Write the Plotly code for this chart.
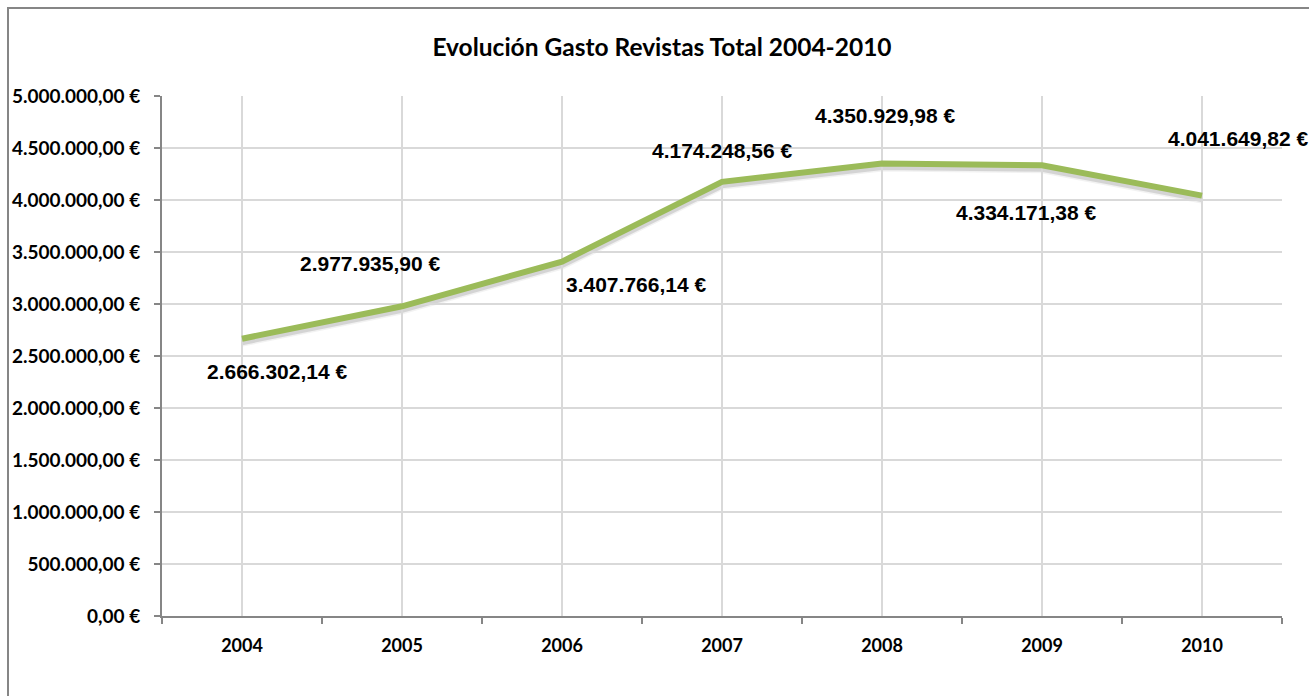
import plotly.graph_objects as go

years = [2004, 2005, 2006, 2007, 2008, 2009, 2010]
gasto = [2666302.14, 2977935.90, 3407766.14, 4174248.56, 4350929.98, 4334171.38, 4041649.82]
labels = ["2.666.302,14 €", "2.977.935,90 €", "3.407.766,14 €", "4.174.248,56 €",
          "4.350.929,98 €", "4.334.171,38 €", "4.041.649,82 €"]
y_ticks = [0, 500000, 1000000, 1500000, 2000000, 2500000, 3000000, 3500000, 4000000, 4500000, 5000000]
y_tick_text = ["0,00 €", "500.000,00 €", "1.000.000,00 €", "1.500.000,00 €", "2.000.000,00 €",
               "2.500.000,00 €", "3.000.000,00 €", "3.500.000,00 €", "4.000.000,00 €",
               "4.500.000,00 €", "5.000.000,00 €"]
title = "Evolución Gasto Revistas Total 2004-2010"

# pixel offsets of data labels (styling)
label_shift = [(35, -33), (-32, 43), (74, -23), (0, 31), (3, 48), (-16, -47), (36, 57)]

W, H = 1309, 696
L, R, T, B = 162, 27, 96, 80
pw, ph = W - L - R, H - T - B
XR = [2003.5, 2010.5]
YR = [0, 5000000]
def px(xp):
    return (xp - L) / pw
def py(yp):
    return (H - B - yp) / ph

# shadow axes (x/y, drawn first): same scale, shifted a few pixels right/down
sdx, sdy = 3, 3
x_per_px = (XR[1] - XR[0]) / pw
y_per_px = (YR[1] - YR[0]) / ph

fig = go.Figure()
for w, a in [(10, 0.05), (7, 0.12)]:
    fig.add_trace(go.Scatter(x=years, y=gasto, mode="lines", xaxis="x", yaxis="y",
                             line=dict(color=f"rgba(0,0,0,{a})", width=w), hoverinfo="skip"))
fig.add_trace(go.Scatter(x=years, y=gasto, mode="lines", xaxis="x2", yaxis="y2",
                         line=dict(color="#9BBB59", width=6), hoverinfo="skip"))

for x, y, t, (dx, dy) in zip(years, gasto, labels, label_shift):
    fig.add_annotation(x=x, y=y, xref="x2", yref="y2", text="<b>" + t + "</b>",
                       showarrow=False, xshift=dx, yshift=dy,
                       font=dict(family="Liberation Sans", size=21, color="#000000"))

fig.add_shape(type="rect", xref="paper", yref="paper",
              x0=px(8), x1=px(1330), y0=py(720), y1=py(8),
              line=dict(color="#868686", width=2), fillcolor="rgba(0,0,0,0)", layer="above")

fig.update_layout(
    width=W, height=H,
    margin=dict(l=L, r=R, t=T, b=B),
    paper_bgcolor="white", plot_bgcolor="rgba(0,0,0,0)",
    showlegend=False,
    title=dict(text="<b>" + title + "</b>", x=662 / W, xanchor="center", xref="container",
               y=1 - 47 / H, yanchor="middle", yref="container",
               font=dict(family="Lato", size=24.5, color="#000000")),
    xaxis=dict(domain=[sdx / pw, 1], range=[XR[0] + sdx * x_per_px, XR[1]], visible=False,
               anchor="y", fixedrange=True, showgrid=False, zeroline=False),
    yaxis=dict(domain=[0, 1 - sdy / ph], range=[YR[0] + sdy * y_per_px, YR[1]], visible=False,
               anchor="x", fixedrange=True, showgrid=False, zeroline=False),
    xaxis2=dict(domain=[0, 1], range=XR, tickvals=years, ticktext=[f"<b>{y}</b>" for y in years],
                anchor="y2",
                showgrid=True, gridcolor="#D9D9D9", gridwidth=1.5,
                showline=True, linecolor="#868686", linewidth=2,
                ticks="", zeroline=False, automargin=False,
                minor=dict(tickvals=[2003.5 + i for i in range(8)], ticks="outside", ticklen=6,
                           tickcolor="#868686", tickwidth=2, showgrid=False),
                tickfont=dict(family="Lato", size=18, color="#000000"),
                ticklabelstandoff=12, fixedrange=True),
    yaxis2=dict(domain=[0, 1], range=YR, tickvals=y_ticks,
                ticktext=[f"<b>{t}</b>" for t in y_tick_text], anchor="x2",
                showgrid=True, gridcolor="#D9D9D9", gridwidth=1.5,
                showline=True, linecolor="#868686", linewidth=2,
                ticks="outside", ticklen=6, tickcolor="#868686", tickwidth=2,
                zeroline=False, automargin=False,
                tickfont=dict(family="Lato", size=19, color="#000000"),
                ticklabelstandoff=10, fixedrange=True),
)

fig.write_html("out.html", config={"displayModeBar": False},
               post_script="document.body.style.margin='0px';")
